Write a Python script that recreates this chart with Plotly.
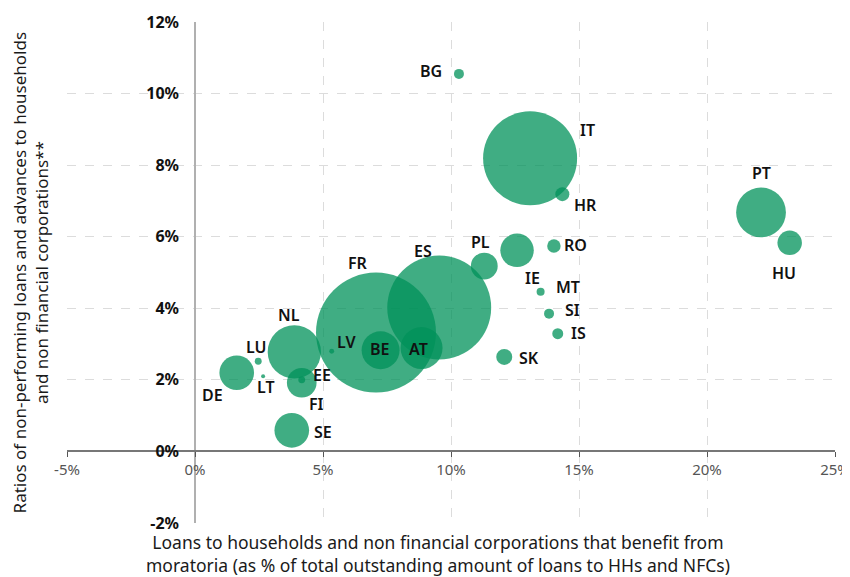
import plotly.graph_objects as go

# ---- data ----
countries = ["FR", "ES", "IT", "NL", "PT", "AT", "BE", "DE", "SE", "IE", "FI", "PL",
             "HU", "SK", "HR", "RO", "BG", "IS", "SI", "MT", "LU", "EE", "LV", "LT"]
moratoria_pct = [7.07, 9.54, 13.09, 3.88, 22.11, 8.85, 7.25, 1.63, 3.78, 12.58, 4.17, 11.30,
                 23.23, 12.08, 14.35, 14.02, 10.31, 14.17, 13.83, 13.50, 2.47, 4.17, 5.34, 2.66]
npl_pct = [3.32, 4.02, 8.19, 2.78, 6.68, 2.89, 2.83, 2.20, 0.59, 5.62, 1.92, 5.18,
           5.83, 2.64, 7.19, 5.74, 10.55, 3.29, 3.85, 4.46, 2.52, 2.00, 2.80, 2.10]
volume = [360, 270, 221, 71, 62, 44, 36, 30, 30, 28, 22, 18,
          15, 6.4, 4.9, 4.5, 2.5, 3.0, 2.5, 1.6, 1.2, 1.2, 0.6, 0.4]

x_ticks = [-5, 0, 5, 10, 15, 20, 25]
y_ticks = [-2, 0, 2, 4, 6, 8, 10, 12]

# ---- label offsets in pixels (styling) ----
label_dx = {"FR": -18, "ES": -16, "IT": 57, "NL": -5, "PT": 0, "AT": -3, "BE": -1, "DE": -24,
            "SE": 31, "IE": 15, "FI": 15, "PL": -4, "HU": -6, "SK": 25, "HR": 23, "RO": 22,
            "BG": -28, "IS": 21, "SI": 23, "MT": 27, "LU": -2, "EE": 20, "LV": 15, "LT": 3}
label_dy = {"FR": 70, "ES": 57, "IT": 28, "NL": 37, "PT": 39, "AT": -1, "BE": 1, "DE": -22,
            "SE": -2, "IE": -28, "FI": -21, "PL": 24, "HU": -30, "SK": -1, "HR": -11, "RO": 1,
            "BG": 3, "IS": 1, "SI": 4, "MT": 5, "LU": 14, "EE": 5, "LV": 9, "LT": -11}

GREEN = "#00915A"
LFONT = "Noto Sans"

fig = go.Figure()
fig.add_trace(go.Scatter(
    x=moratoria_pct, y=npl_pct, mode="markers",
    marker=dict(size=volume, sizemode="area", sizeref=0.05, sizemin=0,
                color=GREEN, opacity=0.75, line=dict(width=0)),
    hoverinfo="skip", showlegend=False,
))

annotations = []
for c, xv, yv in zip(countries, moratoria_pct, npl_pct):
    annotations.append(dict(
        x=xv, y=yv, xref="x", yref="y", text=c, showarrow=False,
        xshift=label_dx[c], yshift=label_dy[c],
        font=dict(family=LFONT, size=16, color="#111", weight=600),
    ))

annotations.append(dict(
    xref="paper", yref="paper", x=-0.047, y=0.5, xanchor="center", yanchor="middle",
    textangle=-90, showarrow=False,
    text="Ratios of non-performing loans and advances to households<br>and non financial corporations**",
    font=dict(family=LFONT, size=17, color="#1a1a1a"),
))
annotations.append(dict(
    xref="paper", yref="paper", x=0.483, y=-0.012, xanchor="center", yanchor="top",
    showarrow=False, borderpad=0,
    text="Loans to households and non financial corporations that benefit from<br>moratoria (as % of total outstanding amount of loans to HHs and NFCs)",
    font=dict(family=LFONT, size=17.5, color="#1a1a1a"),
))

# page body has an 8px margin, so the figure is sized/offset to compensate
fig.update_layout(
    width=842, height=569,
    margin=dict(l=59, r=15, t=14, b=54),
    paper_bgcolor="white", plot_bgcolor="white",
    annotations=annotations,
    xaxis=dict(
        range=[-5, 25], tickvals=x_ticks, ticktext=[f"{v}%" for v in x_ticks],
        anchor="free", position=2 / 14, automargin=False,
        showgrid=True, gridcolor="#dcdcdc", griddash="dash", gridwidth=1,
        zeroline=True, zerolinecolor="#b0b0b0", zerolinewidth=1.5,
        showline=False, ticks="outside", ticklen=5, tickwidth=1, tickcolor="#555",
        tickfont=dict(family=LFONT, size=15, color="#555"),
    ),
    yaxis=dict(
        range=[-2, 12], tickvals=y_ticks, ticktext=[f"{v}%" for v in y_ticks],
        anchor="free", position=5 / 30, automargin=False,
        showgrid=True, gridcolor="#dcdcdc", griddash="dash", gridwidth=1,
        zeroline=True, zerolinecolor="#777", zerolinewidth=2,
        showline=False, ticks="", ticklabelstandoff=16,
        tickfont=dict(family=LFONT, size=16, color="#111", weight=700),
    ),
)

fig.write_html("out.html")
